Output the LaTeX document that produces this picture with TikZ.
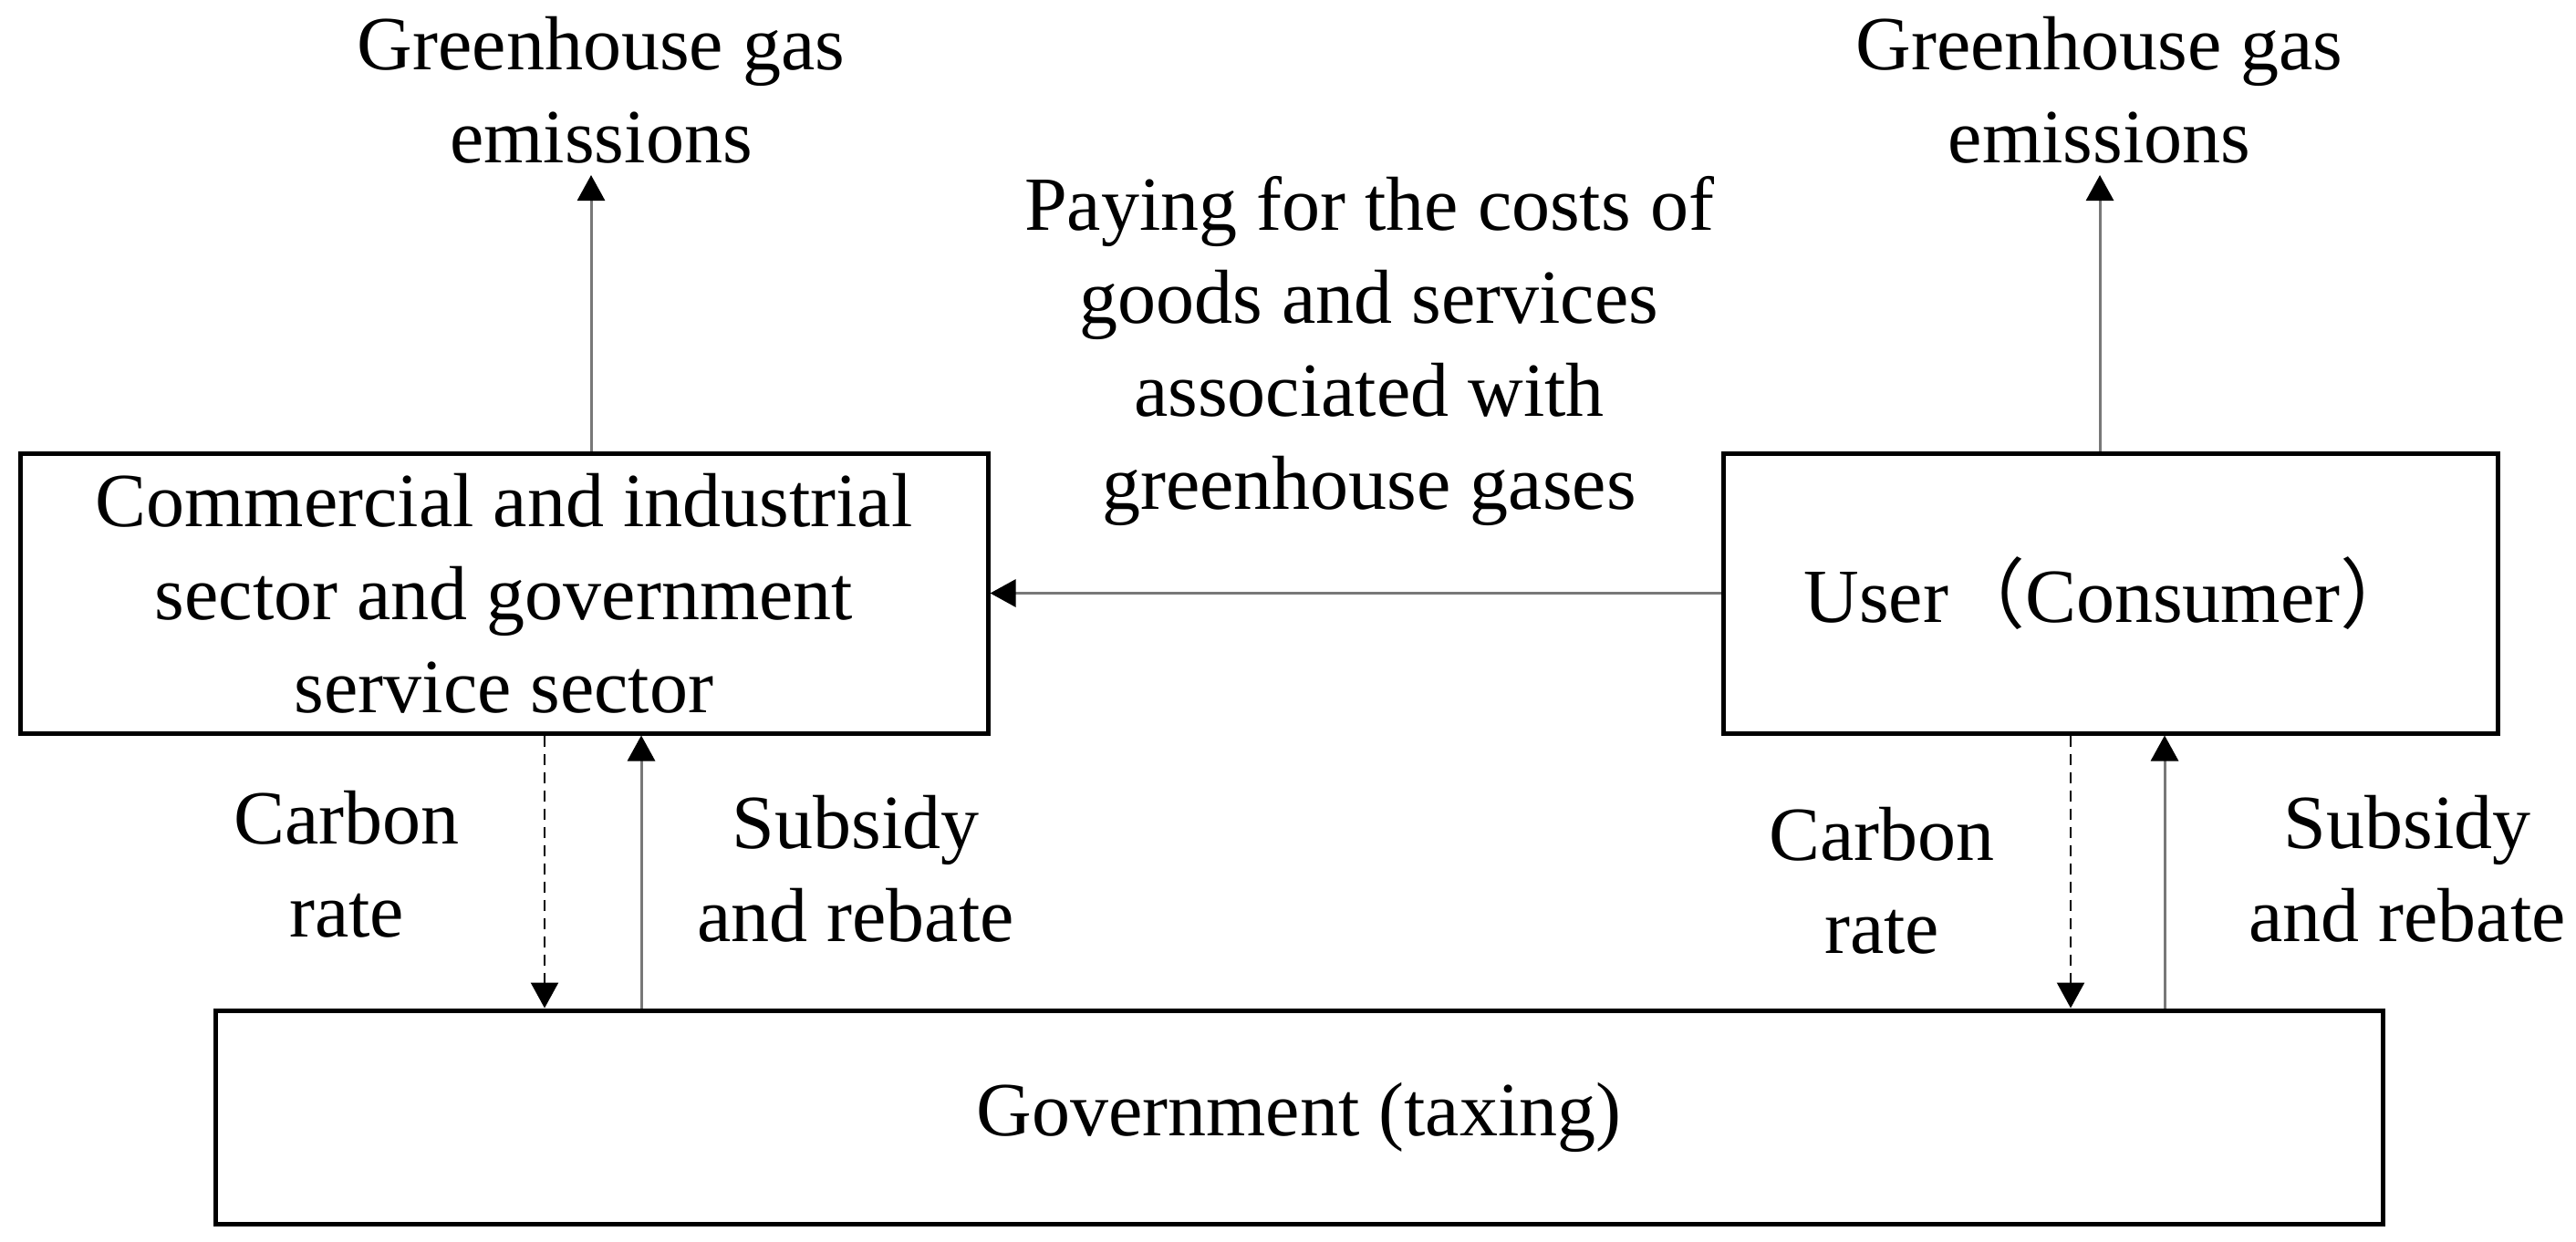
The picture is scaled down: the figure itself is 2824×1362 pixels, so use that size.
\documentclass[tikz,border=0pt]{standalone}
\usepackage{fontspec}
\setmainfont{Liberation Serif}
\newfontfamily\cjk{Noto Sans CJK SC}
\usetikzlibrary{arrows.meta}
\definecolor{shaft}{RGB}{120,120,120}
\begin{document}
\begin{tikzpicture}[x=1pt,y=-1pt,
  every node/.style={font=\fontsize{84}{102}\selectfont, inner sep=0pt, align=center},
  boxnode/.style={draw=black, line width=5pt},
  tipstyle/.style={-{Triangle[length=28pt,width=30pt,color=black]}},
  solidarrow/.style={tipstyle, draw=shaft, line width=3pt},
  dashedarrow/.style={tipstyle, draw=black, line width=2.5pt, dash pattern=on 12pt off 8pt}]
\useasboundingbox (0,0) rectangle (2824,1362);
% boxes
\node[boxnode, minimum width=1061pt, minimum height=307pt] (box1) at (552.5,650.5)
  {Commercial and industrial\\sector and government\\service sector};
\node[boxnode, minimum width=849pt, minimum height=307pt] (box2) at (2313.5,650.5)
  {User{\cjk （}Consumer{\cjk ）}};
\node[boxnode, minimum width=2376pt, minimum height=234pt] (gov) at (1424,1225)
  {Government (taxing)};
% labels
\node (em1) at (659,98.5) {Greenhouse gas\\emissions};
\node (em2) at (2301.5,98.5) {Greenhouse gas\\emissions};
\node (pay) at (1501,384.5) {Paying for the costs of\\goods and services\\associated with\\greenhouse gases};
\node (cr1) at (380,948) {Carbon\\rate};
\node (sr1) at (938,953) {Subsidy\\and rebate};
\node (cr2) at (2063,966) {Carbon\\rate};
\node (sr2) at (2639,953) {Subsidy\\and rebate};
% coordinates for connector positions
\coordinate (t1) at (648,192);
\coordinate (t2) at (2302,192);
\coordinate (d1) at (597,0);
\coordinate (s1) at (703,0);
\coordinate (d2) at (2270,0);
\coordinate (s2) at (2373,0);
% connectors
\draw[solidarrow] (box1.north -| t1) -- (t1);
\draw[solidarrow] (box2.north -| t2) -- (t2);
\draw[solidarrow] (box2.west) -- (box1.east);
\draw[dashedarrow] (box1.south -| d1) -- (gov.north -| d1);
\draw[solidarrow] (gov.north -| s1) -- (box1.south -| s1);
\draw[dashedarrow] (box2.south -| d2) -- (gov.north -| d2);
\draw[solidarrow] (gov.north -| s2) -- (box2.south -| s2);
\end{tikzpicture}
\end{document}
